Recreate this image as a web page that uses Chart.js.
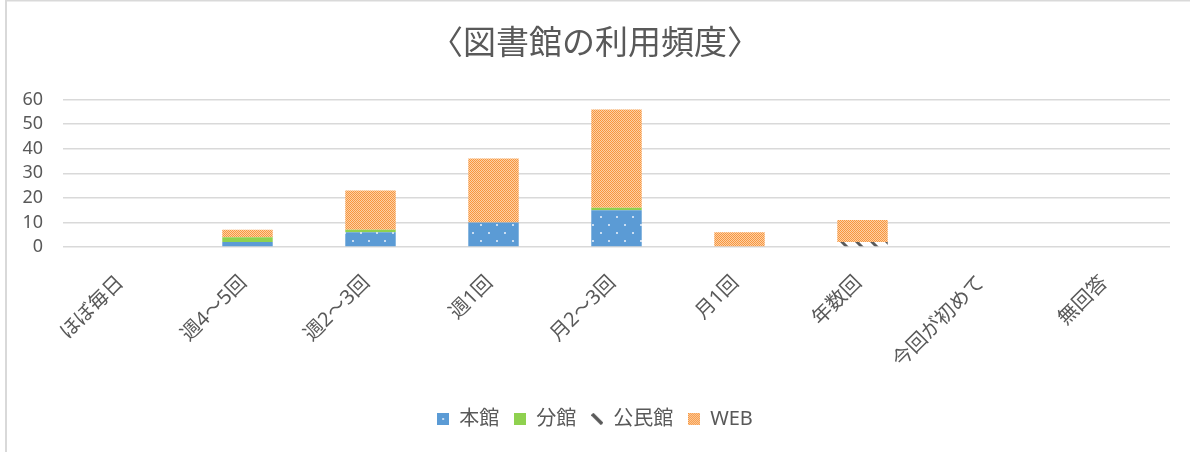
<!DOCTYPE html>
<html><head><meta charset="utf-8">
<script src="https://cdn.jsdelivr.net/npm/chart.js@4/dist/chart.umd.min.js"></script>
<style>html,body{margin:0;padding:0;background:#fff;overflow:hidden}canvas{display:block}</style>
</head><body>
<canvas id="c" width="1190" height="452"></canvas>
<script>
const titleText = '〈図書館の利用頻度〉';
const categories = ['ほぼ毎日','週4～5回','週2～3回','週1回','月2～3回','月1回','年数回','今回が初めて','無回答'];
const seriesNames = ['本館','分館','公民館','WEB'];
const honkan   = [0, 2, 6, 10, 15, 0, 0, 0, 0];
const bunkan   = [0, 2, 1, 0, 1, 0, 0, 0, 0];
const kominkan = [0, 0, 0, 0, 0, 0, 2, 0, 0];
const web      = [0, 3, 16, 26, 40, 6, 9, 0, 0];
const yMin = 0, yMax = 60, yStep = 10;

const FONT = "'Noto Sans', 'Noto Sans CJK JP', sans-serif";
const TXT = '#595959';

function makeTile(w, h, draw) {
  const c = document.createElement('canvas');
  c.width = w; c.height = h;
  draw(c.getContext('2d'), w, h);
  return c;
}
function drawBlue(g, w, h, dots) {
  g.fillStyle = '#5b9bd5'; g.fillRect(0, 0, w, h);
  g.fillStyle = '#c9ddf2';
  dots.forEach(d => g.fillRect(d[0], d[1], 2, 2));
}
function drawChecker(g, w, h) {
  g.fillStyle = '#fdd0a5'; g.fillRect(0, 0, w, h);
  g.fillStyle = '#f7963f';
  for (let y = 0; y < h; y++) for (let x = 0; x < w; x++) if ((x + y) % 2 === 0) g.fillRect(x, y, 1, 1);
}
function drawHatch(g, w, h) {
  g.fillStyle = '#ffffff'; g.fillRect(0, 0, w, h);
  g.strokeStyle = '#5a5a5a'; g.lineWidth = 3;
  g.beginPath();
  g.moveTo(-3, -3); g.lineTo(w + 3, h + 3);
  g.moveTo(w - 3, -3); g.lineTo(w + 3, 3);
  g.moveTo(-3, h - 3); g.lineTo(3, h + 3);
  g.stroke();
}
const ctx = document.getElementById('c').getContext('2d');
const bluePat = ctx.createPattern(makeTile(16, 16, (g, w, h) => drawBlue(g, w, h, [[0, 0], [8, 8]])), 'repeat');
const orangePat = ctx.createPattern(makeTile(2, 2, drawChecker), 'repeat');
const hatchPat = ctx.createPattern(makeTile(15, 15, drawHatch), 'repeat');
const greenCol = '#8fd14f';

const ICON = 12;
const legendIcons = [
  makeTile(ICON, ICON, (g, w, h) => drawBlue(g, w, h, [[5, 5]])),
  makeTile(ICON, ICON, (g, w, h) => { g.fillStyle = greenCol; g.fillRect(0, 0, w, h); }),
  makeTile(ICON, ICON, (g, w, h) => { g.strokeStyle = '#5a5a5a'; g.lineWidth = 3.5; g.beginPath(); g.moveTo(1, 1); g.lineTo(w - 1, h - 1); g.stroke(); }),
  makeTile(ICON, ICON, drawChecker)
];

const framePlugin = {
  id: 'frame',
  beforeDraw(chart) {
    const g = chart.ctx;
    g.save();
    g.fillStyle = '#fff'; g.fillRect(0, 0, chart.width, chart.height);
    g.strokeStyle = '#d9d9d9'; g.lineWidth = 2;
    g.strokeRect(6, 0.5, 1400, 700);
    g.restore();
  }
};

const fills = [bluePat, greenCol, hatchPat, orangePat];
const values = [honkan, bunkan, kominkan, web];

new Chart(ctx, {
  type: 'bar',
  data: {
    labels: categories,
    datasets: seriesNames.map((n, i) => ({
      label: n,
      data: values[i],
      backgroundColor: fills[i],
      borderWidth: 0,
      categoryPercentage: 1,
      barPercentage: 0.41
    }))
  },
  options: {
    responsive: false,
    animation: false,
    layout: { padding: { left: 20, right: 20, top: 0, bottom: 13 } },
    plugins: {
      title: {
        display: true, text: titleText, color: TXT,
        font: { family: FONT, size: 33, weight: 'normal' },
        padding: { top: 25, bottom: 35 }
      },
      legend: {
        position: 'bottom',
        labels: {
          color: TXT,
          font: { family: FONT, size: 20 },
          usePointStyle: true, boxWidth: ICON, boxHeight: ICON, padding: 15,
          generateLabels(chart) {
            const items = Chart.defaults.plugins.legend.labels.generateLabels(chart);
            items.forEach((it, i) => { it.pointStyle = legendIcons[i]; it.lineWidth = 0; });
            return items;
          }
        }
      },
      tooltip: { enabled: false }
    },
    scales: {
      x: {
        stacked: true,
        grid: { display: false, drawTicks: false },
        border: { display: false },
        ticks: {
          color: TXT, font: { family: FONT, size: 20 },
          minRotation: 45, maxRotation: 45, padding: 24, labelOffset: -4, autoSkip: false
        },
        afterFit(s) { s.height = 147; }
      },
      y: {
        stacked: true, min: yMin, max: yMax,
        grid: { color: '#d9d9d9', lineWidth: 1.5, drawTicks: false },
        border: { display: false },
        ticks: { stepSize: yStep, autoSkip: false, color: TXT, font: { family: FONT, size: 18 }, padding: 20 },
        afterFit(s) { s.width = 43; }
      }
    }
  },
  plugins: [framePlugin]
});
</script>
</body></html>
